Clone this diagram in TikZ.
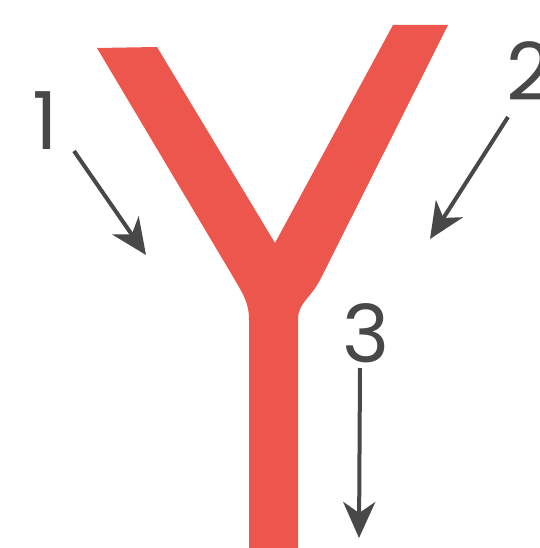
\documentclass[tikz,border=0pt]{standalone}
\usepackage{fontspec}
\setmainfont{Poppins}
\usetikzlibrary{arrows.meta}
\definecolor{yred}{RGB}{236,86,76}
\definecolor{arrgray}{RGB}{72,72,72}
\tikzset{
  flowarrow/.style={draw=arrgray, line width=4pt, -{Stealth[length=36pt,width=32pt,inset=11pt]}},
  numlabel/.style={text=arrgray, font=\fontsize{80}{80}\selectfont, inner sep=0pt, anchor=center}
}
\begin{document}
\begin{tikzpicture}[x=1pt,y=-1pt]
\useasboundingbox (0,0) rectangle (539,548);
\fill[white] (0,0) rectangle (539,548);
% the Y
\fill[yred] (97,48) -- (157,47) -- (275,243) -- (393,25) -- (448,25)
  -- (321,278) .. controls (310,300) and (298,302) .. (298,320)
  -- (298,548) -- (249,548) -- (249,320)
  .. controls (249,302) and (243,294) .. (232,275) -- cycle;
% labels
\node[numlabel] (n1) at (45,121) {1};
\node[numlabel] (n2) at (529,71) {2};
\node[numlabel] (n3) at (366,333) {3};
% arrow ends
\coordinate (a1s) at (74,151);
\coordinate (a1e) at (146,255);
\coordinate (a2s) at (508,117);
\coordinate (a2e) at (430,239);
\coordinate (a3s) at (360,368);
\coordinate (a3e) at (359,538);
\draw[flowarrow] (a1s) -- (a1e);
\draw[flowarrow] (a2s) -- (a2e);
\draw[flowarrow] (a3s) -- (a3e);
\end{tikzpicture}
\end{document}
